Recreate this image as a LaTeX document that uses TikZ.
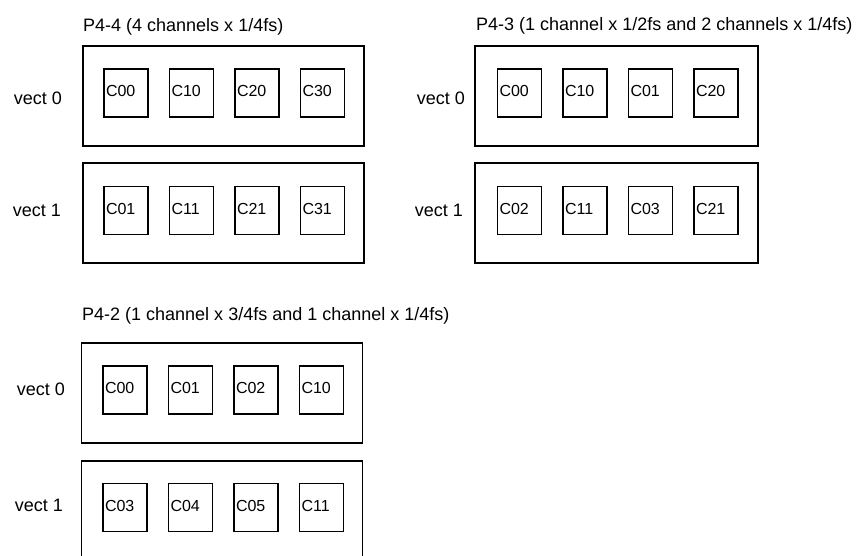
\documentclass[tikz,border=0pt]{standalone}
\usepackage{fontspec}
\setmainfont{Liberation Sans}
\usetikzlibrary{positioning}

\tikzset{
	vectbox/.style={draw, line width=1.2pt, outer sep=0pt, minimum width=281pt, minimum height=100pt},
	chan/.style={draw, line width=1.2pt, outer sep=0pt, text width=40pt, inner sep=2pt, minimum height=48pt, text depth=4pt, align=left, font=\fontsize{16}{19}\selectfont},
	lbl/.style={inner sep=0pt, font=\fontsize{18}{21}\selectfont}
}

\begin{document}
\begin{tikzpicture}[x=1pt, y=-1pt]
		
		\useasboundingbox (0,0) rectangle (856,555);
		
		\node[lbl, anchor=west] (p4t) at (83,27) {P4-4 (4 channels x 1/4fs)};
		\node[vectbox] (p4v0) at (223.5,96) {};
		\node[vectbox, below=17pt of p4v0] (p4v1) {};
		\node[lbl, anchor=east] (p4l0) at (62,98) {vect 0};
		\node[lbl, anchor=east] (p4l1) at (61,210) {vect 1};
		
		\node[chan] (p4r0c0) at (126,93) {C00};
		\node[chan, right=21.5pt of p4r0c0] (p4r0c1) {C10};
		\node[chan, right=21.5pt of p4r0c1] (p4r0c2) {C20};
		\node[chan, right=21.5pt of p4r0c2] (p4r0c3) {C30};
		\node[chan] (p4r1c0) at (126,210.5) {C01};
		\node[chan, right=21.5pt of p4r1c0] (p4r1c1) {C11};
		\node[chan, right=21.5pt of p4r1c1] (p4r1c2) {C21};
		\node[chan, right=21.5pt of p4r1c2] (p4r1c3) {C31};
		
		\node[lbl, anchor=west] (p3t) at (476,26) {P4-3 (1 channel x 1/2fs and 2 channels x 1/4fs)};
		\node[vectbox, minimum width=283pt] (p3v0) at (616.5,96) {};
		\node[vectbox, minimum width=283pt, below=17pt of p3v0] (p3v1) {};
		\node[lbl, anchor=east] (p3l0) at (465,98) {vect 0};
		\node[lbl, anchor=east] (p3l1) at (463,210) {vect 1};
		
		\node[chan] (p3r0c0) at (519.5,93) {C00};
		\node[chan, right=21.5pt of p3r0c0] (p3r0c1) {C10};
		\node[chan, right=21.5pt of p3r0c1] (p3r0c2) {C01};
		\node[chan, right=21.5pt of p3r0c2] (p3r0c3) {C20};
		\node[chan] (p3r1c0) at (519.5,210.5) {C02};
		\node[chan, right=21.5pt of p3r1c0] (p3r1c1) {C11};
		\node[chan, right=21.5pt of p3r1c1] (p3r1c2) {C03};
		\node[chan, right=21.5pt of p3r1c2] (p3r1c3) {C21};
		
		\node[lbl, anchor=west] (p2t) at (82,316) {P4-2 (1 channel x 3/4fs and 1 channel x 1/4fs)};
		\node[vectbox] (p2v0) at (222,393) {};
		\node[vectbox, below=18pt of p2v0] (p2v1) {};
		\node[lbl, anchor=east] (p2l0) at (65,389) {vect 0};
		\node[lbl, anchor=east] (p2l1) at (63,505) {vect 1};
		
		\node[chan] (p2r0c0) at (125,390) {C00};
		\node[chan, right=21.5pt of p2r0c0] (p2r0c1) {C01};
		\node[chan, right=21.5pt of p2r0c1] (p2r0c2) {C02};
		\node[chan, right=21.5pt of p2r0c2] (p2r0c3) {C10};
		\node[chan] (p2r1c0) at (125,507.5) {C03};
		\node[chan, right=21.5pt of p2r1c0] (p2r1c1) {C04};
		\node[chan, right=21.5pt of p2r1c1] (p2r1c2) {C05};
		\node[chan, right=21.5pt of p2r1c2] (p2r1c3) {C11};
		
\end{tikzpicture}
\end{document}
